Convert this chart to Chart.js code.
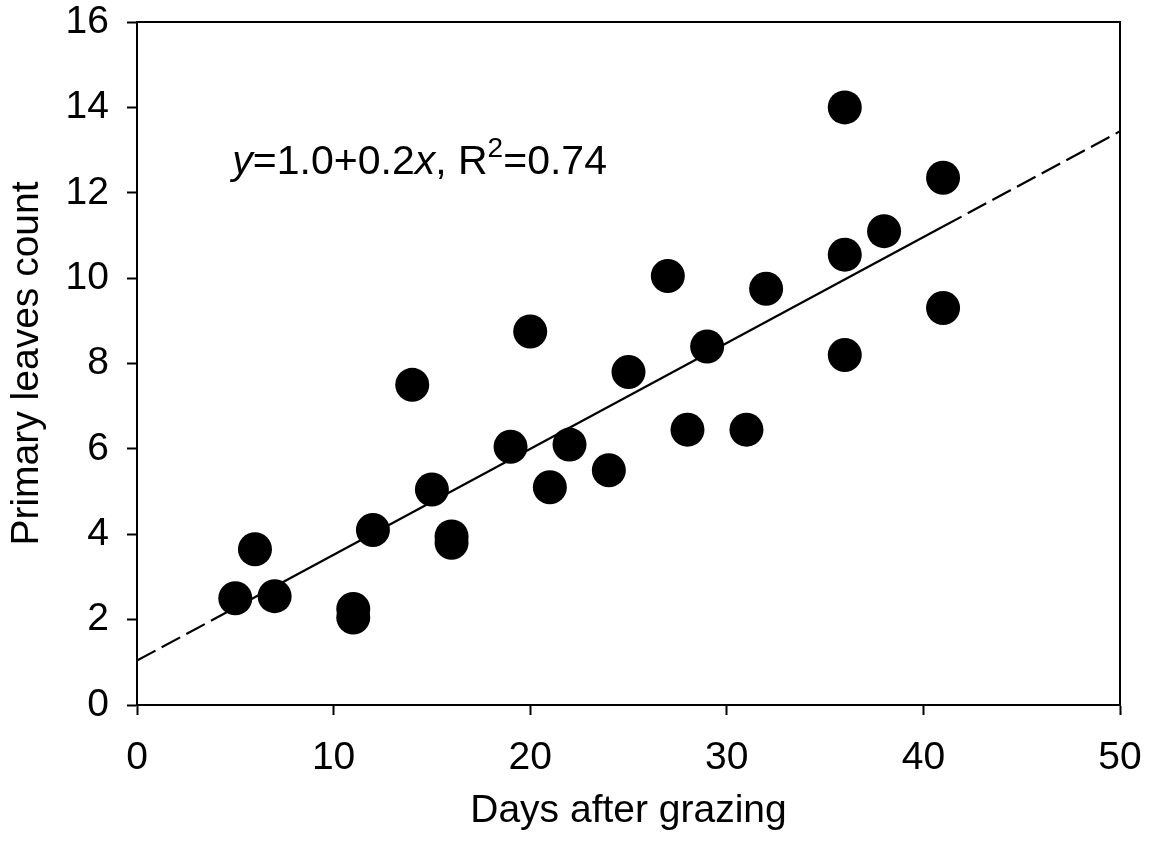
<!DOCTYPE html>
<html>
<head>
<meta charset="utf-8">
<script src="https://cdn.jsdelivr.net/npm/chart.js@4/dist/chart.umd.min.js"></script>
<style>
  html, body { margin: 0; padding: 0; background: #fff; }
  canvas { display: block; }
</style>
</head>
<body>
<canvas id="chart" width="1157" height="845"></canvas>
<script>
// Observations: days since grazing and the number of primary leaves counted
const daysAfterGrazing = [5, 6, 7, 11, 11, 12, 14, 15, 16, 16, 19, 20, 21, 22, 24, 25, 27, 28, 29, 31, 32, 36, 36, 36, 38, 41, 41];
const primaryLeaves    = [2.5, 3.65, 2.55, 2.25, 2.05, 4.1, 7.5, 5.05, 3.95, 3.8, 6.05, 8.75, 5.1, 6.1, 5.5, 7.8, 10.05, 6.45, 8.4, 6.45, 9.75, 14.0, 10.55, 8.2, 11.1, 12.35, 9.3];

// Linear fit: solid over the observed range, dashed extrapolation to the axis limits
const fitIntercept = 1.04;
const fitSlope = 0.248;
const fitX = [0, 5, 41, 50];

// Axis ticks
const xTicks = [0, 10, 20, 30, 40, 50];
const yTicks = [0, 2, 4, 6, 8, 10, 12, 14, 16];

// Equation label, drawn in pieces (italic variables, superscript exponent)
const equationParts = [
  { text: 'y', italic: true },
  { text: '=1.0+0.2' },
  { text: 'x', italic: true },
  { text: ', R' },
  { text: '2', sup: true },
  { text: '=0.74' }
];
const equationAt = { x: 4.85, y: 12.45 };

const FONT = "'Liberation Sans', Arial, Helvetica, sans-serif";

const scatterPoints = daysAfterGrazing.map((d, i) => ({ x: d, y: primaryLeaves[i] }));
const fitPoints = fitX.map(x => ({ x: x, y: fitIntercept + fitSlope * x }));

const equationPlugin = {
  id: 'equationLabel',
  afterDatasetsDraw(chart) {
    const ctx = chart.ctx;
    const size = 41;
    let x = chart.scales.x.getPixelForValue(equationAt.x);
    const y = chart.scales.y.getPixelForValue(equationAt.y);
    ctx.save();
    ctx.fillStyle = '#000';
    ctx.textBaseline = 'alphabetic';
    ctx.textAlign = 'left';
    equationParts.forEach(p => {
      const fs = p.sup ? Math.round(size * 0.68) : size;
      ctx.font = (p.italic ? 'italic ' : '') + fs + 'px ' + FONT;
      const dy = p.sup ? -size * 0.4 : 0;
      ctx.fillText(p.text, x, y + dy);
      x += ctx.measureText(p.text).width;
    });
    ctx.restore();
  }
};

const tickFont = { family: FONT, size: 39, lineHeight: 1.2 };

// Keep the plot frame fixed: no extra room for overhanging tick labels
function noOverhang(s) {
  s.paddingTop = 0;
  s.paddingBottom = 0;
  s.paddingLeft = 0;
  s.paddingRight = 0;
}

new Chart(document.getElementById('chart'), {
  type: 'scatter',
  data: {
    datasets: [
      {
        data: scatterPoints,
        backgroundColor: '#000',
        borderWidth: 0,
        pointRadius: 17,
        pointHoverRadius: 17,
        order: 1
      },
      {
        data: fitPoints,
        showLine: true,
        borderColor: '#000',
        borderWidth: 2.2,
        pointRadius: 0,
        pointHoverRadius: 0,
        segment: {
          borderDash: c => (c.p0DataIndex === 1 ? [] : [21, 7])
        },
        order: 2
      }
    ]
  },
  options: {
    responsive: false,
    animation: false,
    events: [],
    layout: { padding: { top: 22, right: 37, left: 0, bottom: 0 } },
    plugins: {
      legend: { display: false },
      tooltip: { enabled: false }
    },
    scales: {
      x: {
        type: 'linear',
        position: 'bottom',
        min: 0,
        max: 50,
        afterBuildTicks: s => { s.ticks = xTicks.map(v => ({ value: v })); },
        ticks: { color: '#000', font: tickFont, padding: 20, maxRotation: 0 },
        grid: { drawOnChartArea: false, drawTicks: true, tickLength: 10, tickWidth: 2, tickColor: '#000' },
        border: { display: true, color: '#000', width: 2 },
        title: {
          display: true,
          text: 'Days after grazing',
          color: '#000',
          font: tickFont,
          padding: { top: 0, bottom: 10 }
        },
        afterFit: s => { s.height = 140; noOverhang(s); }
      },
      y: {
        type: 'linear',
        position: 'left',
        min: 0,
        max: 16,
        afterBuildTicks: s => { s.ticks = yTicks.map(v => ({ value: v })); },
        ticks: { color: '#000', font: tickFont, padding: 18 },
        grid: { drawOnChartArea: false, drawTicks: true, tickLength: 10, tickWidth: 2, tickColor: '#000' },
        border: { display: true, color: '#000', width: 2 },
        title: {
          display: true,
          text: 'Primary leaves count',
          color: '#000',
          font: tickFont,
          padding: { top: 4, bottom: 0 }
        },
        afterFit: s => { s.width = 137; noOverhang(s); }
      },
      xTop: {
        type: 'linear',
        axis: 'x',
        position: 'top',
        ticks: { display: false },
        grid: { drawOnChartArea: false, drawTicks: false },
        border: { display: true, color: '#000', width: 2 },
        afterFit: s => { s.height = 0; noOverhang(s); }
      },
      yRight: {
        type: 'linear',
        axis: 'y',
        position: 'right',
        ticks: { display: false },
        grid: { drawOnChartArea: false, drawTicks: false },
        border: { display: true, color: '#000', width: 2 },
        afterFit: s => { s.width = 0; noOverhang(s); }
      }
    }
  },
  plugins: [equationPlugin]
});
</script>
</body>
</html>
